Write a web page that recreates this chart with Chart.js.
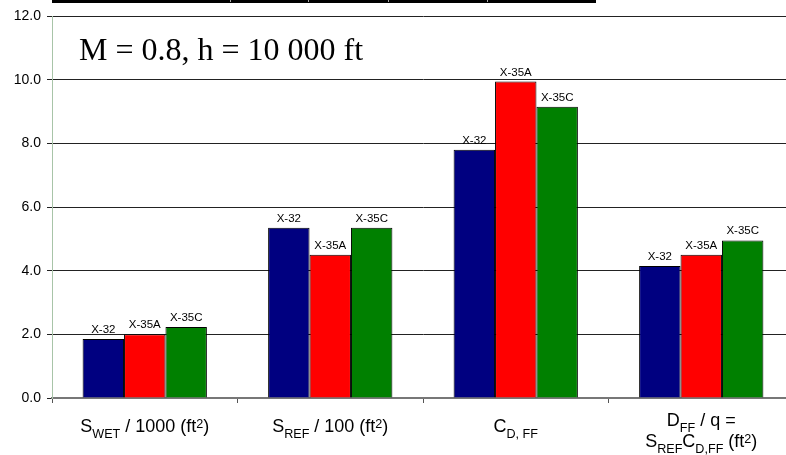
<!DOCTYPE html>
<html>
<head>
<meta charset="utf-8">
<script src="https://cdn.jsdelivr.net/npm/chart.js@4.4.0/dist/chart.umd.min.js"></script>
<style>
  html, body { margin: 0; padding: 0; background: #fff; overflow: hidden; }
  #wrap { position: relative; width: 794px; height: 455px; }
  #topbar { position: absolute; left: 52px; top: 0; width: 544px; height: 3px; background: #000; }
  .notch { position: absolute; top: 0; width: 1px; height: 2px; background: #aaa; }
</style>
</head>
<body>
<div id="wrap">
  <div id="topbar"></div>
  <div class="notch" style="left:230px"></div>
  <div class="notch" style="left:308px"></div>
  <div class="notch" style="left:388px"></div>
  <div class="notch" style="left:487px"></div>
  <canvas id="chart" width="794" height="455"></canvas>
</div>
<script>
// categories, written as rich text pieces: [text, 'sub' | 'sup' | '']
var categories = [
  [[['S', ''], ['WET', 'sub'], [' / 1000 (ft', ''], ['2', 'sup'], [')', '']]],
  [[['S', ''], ['REF', 'sub'], [' / 100 (ft', ''], ['2', 'sup'], [')', '']]],
  [[['C', ''], ['D, FF', 'sub']]],
  [[['D', ''], ['FF', 'sub'], [' / q =', '']],
   [['S', ''], ['REF', 'sub'], ['C', ''], ['D,FF', 'sub'], [' (ft', ''], ['2', 'sup'], [')', '']]]
];
var seriesNames = ['X-32', 'X-35A', 'X-35C'];
var x32  = [1.85, 5.35, 7.8, 4.15];
var x35a = [2.0, 4.5, 9.94, 4.5];
var x35c = [2.23, 5.35, 9.15, 4.95];
var yTicks = [0, 2, 4, 6, 8, 10, 12];
var titleText = 'M = 0.8, h = 10 000 ft';

var colors = ['#000080', '#ff0000', '#008000'];

function drawRich(ctx, lines, cx, y0, lineH, size) {
  var small = size * 0.7;
  lines.forEach(function(line, li) {
    var total = 0;
    line.forEach(function(p) {
      ctx.font = (p[1] ? small : size) + 'px "Liberation Sans", Arial, sans-serif';
      total += ctx.measureText(p[0]).width;
    });
    var x = cx - total / 2;
    var base = y0 + li * lineH;
    line.forEach(function(p) {
      ctx.font = (p[1] ? small : size) + 'px "Liberation Sans", Arial, sans-serif';
      var dy = p[1] === 'sub' ? size * 0.33 : (p[1] === 'sup' ? -size * 0.22 : 0);
      ctx.fillText(p[0], x, base + dy);
      x += ctx.measureText(p[0]).width;
    });
  });
}

var extras = {
  id: 'extras',
  afterDatasetsDraw: function(chart) {
    var ctx = chart.ctx;
    ctx.save();
    ctx.fillStyle = '#000';
    ctx.textAlign = 'center';
    ctx.textBaseline = 'alphabetic';
    ctx.font = '11.5px "Liberation Sans", Arial, sans-serif';
    chart.data.datasets.forEach(function(ds, i) {
      chart.getDatasetMeta(i).data.forEach(function(bar) {
        ctx.fillText(ds.label, bar.x, bar.y - 6);
      });
    });
    // category labels with sub/superscripts
    ctx.textAlign = 'left';
    var xs = chart.scales.x;
    categories.forEach(function(lines, i) {
      var cx = xs.getPixelForValue(i);
      var y0 = lines.length > 1 ? 426 : 432;
      drawRich(ctx, lines, cx, y0, 21, 18);
    });
    // title
    ctx.font = '32px "Liberation Serif", "Times New Roman", serif';
    ctx.fillText(titleText, chart.chartArea.left + 27, 60);
    ctx.restore();
  }
};

new Chart(document.getElementById('chart').getContext('2d'), {
  type: 'bar',
  data: {
    labels: categories.map(function(c, i) { return 'c' + i; }),
    datasets: [
      { label: seriesNames[0], data: x32, backgroundColor: colors[0] },
      { label: seriesNames[1], data: x35a, backgroundColor: colors[1] },
      { label: seriesNames[2], data: x35c, backgroundColor: colors[2] }
    ].map(function(d) {
      d.borderColor = '#000';
      d.borderWidth = 1;
      d.barPercentage = 1;
      d.categoryPercentage = 0.67;
      return d;
    })
  },
  options: {
    responsive: false,
    animation: false,
    layout: { padding: { top: 16, right: 0, left: 0, bottom: 0 } },
    plugins: { legend: { display: false }, tooltip: { enabled: false } },
    scales: {
      x: {
        grid: { display: true, drawOnChartArea: false, tickLength: 5, color: '#555', offset: true },
        border: { color: '#777', width: 2 },
        ticks: { callback: function() { return ''; } },
        afterFit: function(s) { s.height = 57; }
      },
      y: {
        min: 0,
        max: 12,
        afterBuildTicks: function(s) { s.ticks = yTicks.map(function(v) { return { value: v }; }); },
        ticks: {
          color: '#000',
          padding: 6,
          font: { family: '"Liberation Sans", Arial, sans-serif', size: 14 },
          callback: function(v) { return v.toFixed(1); }
        },
        grid: { color: '#222', lineWidth: 1, tickLength: 5 },
        border: { color: '#a8c4a8', width: 1 },
        afterFit: function(s) { s.width = 52; }
      }
    }
  },
  plugins: [extras]
});
</script>
</body>
</html>
